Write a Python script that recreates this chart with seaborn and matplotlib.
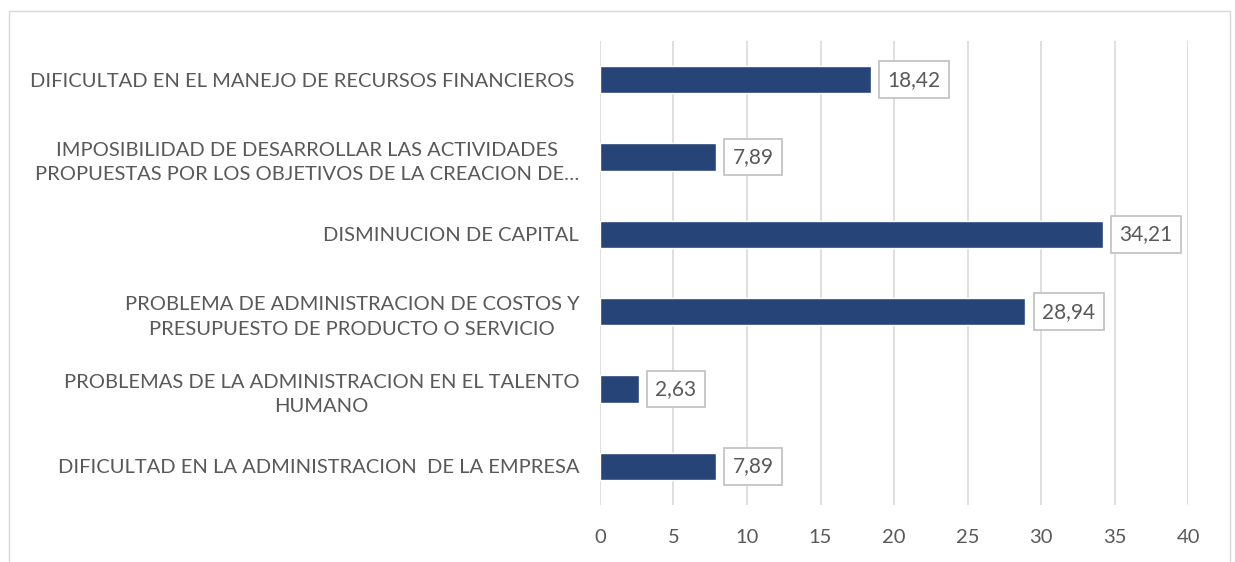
import matplotlib.pyplot as plt
import seaborn as sns
import pandas as pd
from matplotlib.patches import Rectangle

# datos
categorias = [
    'DIFICULTAD EN EL MANEJO DE RECURSOS FINANCIEROS ',
    'IMPOSIBILIDAD DE DESARROLLAR LAS ACTIVIDADES\nPROPUESTAS POR LOS OBJETIVOS DE LA CREACION DE…',
    'DISMINUCION DE CAPITAL',
    'PROBLEMA DE ADMINISTRACION DE COSTOS Y\nPRESUPUESTO DE PRODUCTO O SERVICIO',
    'PROBLEMAS DE LA ADMINISTRACION EN EL TALENTO\nHUMANO',
    'DIFICULTAD EN LA ADMINISTRACION  DE LA EMPRESA',
]
valores = [18.42, 7.89, 34.21, 28.94, 2.63, 7.89]
x_ticks = [0, 5, 10, 15, 20, 25, 30, 35, 40]

df = pd.DataFrame({'causa': categorias, 'valor': valores})

sns.set_theme(style='white')
plt.rcParams['font.family'] = ['Lato', 'DejaVu Sans']

texto = '#595959'
fig = plt.figure(figsize=(12.35, 5.62), dpi=100)
ax = fig.add_axes([0.4858, 0.1014, 0.962 - 0.4858, 0.927 - 0.1014])

sns.barplot(data=df, y='causa', x='valor', orient='h', color='#264478',
            saturation=1, width=0.35, ax=ax)

ax.set_xlim(0, 40)
ax.set_xticks(x_ticks)
ax.grid(axis='x', color='#d9d9d9', linewidth=1.2)
ax.set_axisbelow(True)
for s in ax.spines.values():
    s.set_visible(False)
ax.set_xlabel('')
ax.set_ylabel('')
ax.tick_params(axis='x', length=0, pad=17, labelsize=14.5, labelcolor=texto)
ax.tick_params(axis='y', length=0, pad=15, labelsize=14.5, labelcolor=texto)
for lab in ax.get_yticklabels():
    lab.set_multialignment('center')
    lab.set_linespacing(1.55)

# etiquetas de valor en cajas
for i, v in enumerate(valores):
    ax.annotate(f'{v:.2f}'.replace('.', ','), xy=(v, i), xytext=(12, 0),
                textcoords='offset points', va='center', ha='left',
                fontsize=15, color=texto,
                bbox=dict(boxstyle='square,pad=0.4', fc='white', ec='#bfbfbf', lw=1.2))

# borde del gráfico
fig.patches.append(Rectangle((9 / 1235, -0.05), (1230 - 9) / 1235, 1 - 11 / 562 + 0.05,
                             transform=fig.transFigure, fill=False, ec='#d9d9d9', lw=1))

fig.savefig('out.png', dpi=100)
